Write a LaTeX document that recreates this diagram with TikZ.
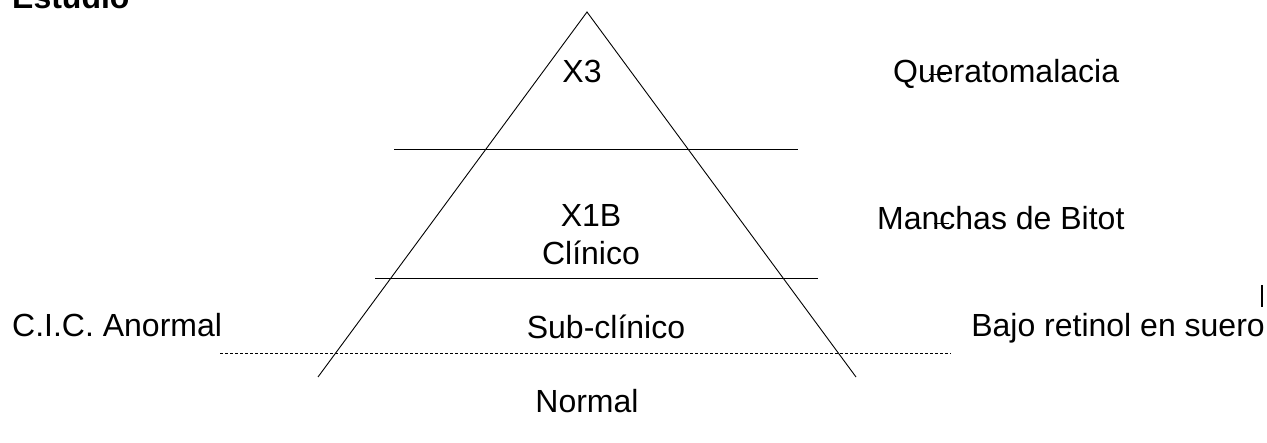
\documentclass[tikz,border=0pt]{standalone}
\usepackage{fontspec}
\setmainfont{Liberation Sans}
\begin{document}
\begin{tikzpicture}[x=1pt,y=-1pt,
  lbl/.style={font=\fontsize{32}{36}\selectfont, inner sep=0pt, anchor=base},
  thin line/.style={line width=0.9pt},
  dash line/.style={line width=0.9pt, dash pattern=on 3pt off 2pt}]
\useasboundingbox (0,0) rectangle (1267,443);
% triangle
\coordinate (apex) at (587,12);
\coordinate (bl) at (318,377);
\coordinate (br) at (856,377);
\draw[thin line] (bl) -- (apex) -- (br);
% level lines
\coordinate (l1a) at (394,149); \coordinate (l1b) at (798,149);
\coordinate (l2a) at (375,278); \coordinate (l2b) at (818,278);
\coordinate (d1a) at (220,353); \coordinate (d1b) at (951,353);
\draw[thin line] (l1a) -- (l1b);
\draw[thin line] (l2a) -- (l2b);
\draw[dash line] (d1a) -- (d1b);
% texts
\node[lbl, anchor=base west, font=\fontsize{32}{36}\selectfont\bfseries] (est) at (12,9) {Estudio};
\node[lbl] (x3) at (582,83) {X3};
\node[lbl, anchor=base west] (quer) at (893,83) {Queratomalacia};
\node[lbl] (x1b) at (591,227) {X1B};
\node[lbl] (clin) at (591,265) {Clínico};
\node[lbl, anchor=base west] (manch) at (877,230) {Manchas de Bitot};
\node[lbl, anchor=base west] (cic) at (12,337) {C.I.C. Anormal};
\node[lbl] (sub) at (606,339) {Sub-clínico};
\node[lbl, anchor=base east] (bajo) at (1265,337) {Bajo retinol en suero};
\node[lbl] (norm) at (587,413) {Normal};
% stray marks
\coordinate (s1a) at (929,74); \coordinate (s1b) at (946,74);
\coordinate (s2a) at (934,223); \coordinate (s2b) at (949,223);
\draw[thin line] (s1a) -- (s1b);
\draw[thin line] (s2a) -- (s2b);
\coordinate (vl1) at (1262,285); \coordinate (vl2) at (1262,307);
\draw[line width=1.6pt] (vl1) -- (vl2);
\end{tikzpicture}
\end{document}
